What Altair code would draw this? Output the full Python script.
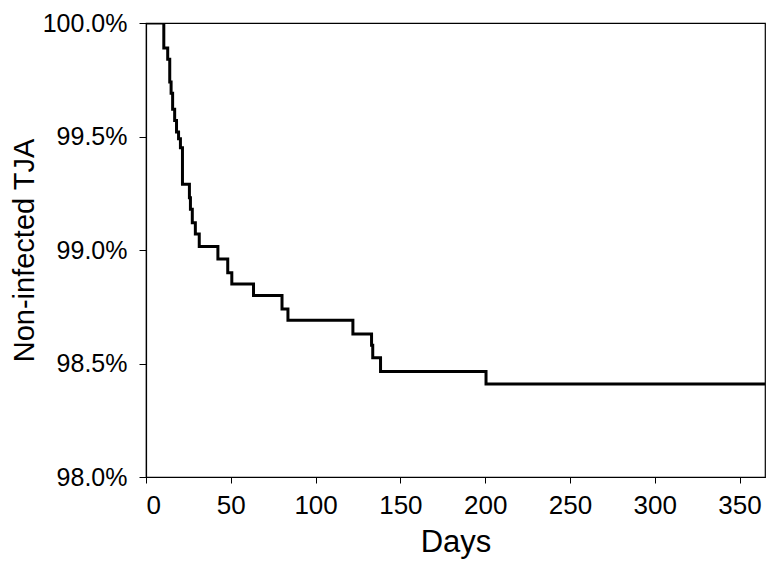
import altair as alt
import pandas as pd

# Kaplan-Meier style step data (day of event, survival % after event)
days = [0, 10.5, 12.8, 14.0, 14.8, 15.7, 16.9, 18.0, 19.2, 20.3, 21.5, 25.6, 26.2,
        27.3, 29.1, 31.4, 42.4, 48.2, 50.6, 63.4, 80.2, 83.7, 122.0, 133.0, 133.7,
        138.3, 200.5, 365]
survival = [100.0, 99.89, 99.84, 99.74, 99.69, 99.62, 99.57, 99.52, 99.49, 99.45,
            99.29, 99.23, 99.18, 99.12, 99.07, 99.015, 98.96, 98.90, 98.85, 98.80,
            98.74, 98.69, 98.63, 98.58, 98.525, 98.465, 98.41, 98.41]

x_ticks = [0, 50, 100, 150, 200, 250, 300, 350]
y_ticks = [98.0, 98.5, 99.0, 99.5, 100.0]

df = pd.DataFrame({"Days": days, "Survival": survival})

FONT = "Liberation Sans"

chart = alt.Chart(df).mark_line(
    interpolate="step-after", color="black", strokeWidth=3, clip=True
).encode(
    x=alt.X("Days:Q",
            scale=alt.Scale(domain=[0, 365], nice=False, zero=False),
            axis=alt.Axis(values=x_ticks, title="Days", grid=False,
                          tickSize=6, labelPadding=9, titlePadding=9,
                          labelFontSize=26, titleFontSize=31,
                          titleFontWeight="normal")),
    y=alt.Y("Survival:Q",
            scale=alt.Scale(domain=[98, 100], nice=False, zero=False),
            axis=alt.Axis(values=y_ticks, title="Non-infected TJA", grid=False,
                          tickSize=7, labelPadding=12, titlePadding=3,
                          labelFontSize=25, titleFontSize=29,
                          titleFontWeight="normal",
                          labelExpr="format(datum.value, '.1f') + '%'")),
).properties(
    width=619, height=454,
    autosize=alt.AutoSizeParams(type="none"),
    padding={"left": 138, "top": 15, "right": 1, "bottom": 82},
).configure_view(
    stroke="black", strokeWidth=1.2
).configure_axis(
    domainColor="black", tickColor="black", labelColor="black",
    titleColor="black", labelFont=FONT, titleFont=FONT, domainWidth=1.2
)

chart.save("out.html", embed_options={"renderer": "svg", "actions": False})
